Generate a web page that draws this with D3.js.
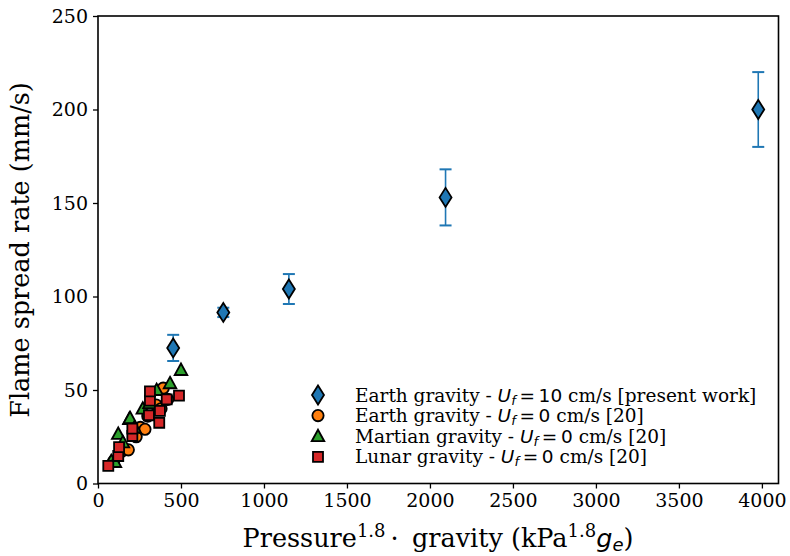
<!doctype html>
<html lang="en">
<head>
<meta charset="utf-8" />
<title>Flame spread rate</title>
<script src="https://cdn.jsdelivr.net/npm/d3@7"></script>
<style>
  body { margin: 0; background: #fff; }
  svg { display: block; }
  .tick text { font-family: "DejaVu Serif", serif; font-size: 19px; fill: #000; }
  .lbl { font-family: "DejaVu Serif", serif; font-size: 25.5px; fill: #000; }
  .leg { font-family: "DejaVu Serif", serif; font-size: 18.5px; fill: #000; }
  .math { font-family: "DejaVu Sans", sans-serif; }
</style>
</head>
<body>
<svg id="chart" width="790" height="556"></svg>
<script>
// present work, earth gravity, Uf = 10 cm/s
var earthX = [453, 755, 1150, 2094, 3978];
var earthY = [72.5, 91.5, 104, 153, 200];
var earthErr = [7, 2.5, 8, 15, 20];

// reference [20], Uf = 0
var orangeX = [95, 140, 183, 230, 255, 283, 300, 350, 380, 393, 420];
var orangeY = [12, 17, 18, 25, 30, 29, 36, 42, 40, 51, 45];

var greenX = [80, 102, 122, 150, 189, 193, 220, 270, 310, 353, 434, 500];
var greenY = [12, 11.5, 26.5, 22, 34.5, 35, 30, 40, 43, 50, 53.6, 60.7];

var redX = [62, 122, 127, 207, 207, 307, 369, 373, 313, 313, 414, 488];
var redY = [9.4, 14.7, 19.4, 25.4, 29.3, 36.5, 32.5, 38.8, 44.3, 49.3, 45, 47];

var xTicks = [0, 500, 1000, 1500, 2000, 2500, 3000, 3500, 4000];
var yTicks = [0, 50, 100, 150, 200, 250];

var legendRows = [
  { pre: "Earth gravity - ", val: "10", post: " cm/s [present work]", shape: "diamond", color: "#1f77b4" },
  { pre: "Earth gravity - ", val: "0", post: " cm/s [20]", shape: "circle", color: "#ff7f0e" },
  { pre: "Martian gravity - ", val: "0", post: " cm/s [20]", shape: "triangle", color: "#2ca02c" },
  { pre: "Lunar gravity - ", val: "0", post: " cm/s [20]", shape: "square", color: "#d62728" }
];

var svg = d3.select("#chart");
var mLeft = 98, mRight = 778.5, mTop = 16, mBottom = 483.5;

var x = d3.scaleLinear().domain([0, 4100]).range([mLeft, mRight]);
var y = d3.scaleLinear().domain([0, 250]).range([mBottom, mTop]);

// marker shapes
var shapes = {
  diamond: "M0,-9.5L6,0L0,9.5L-6,0Z",
  circle: d3.symbol().type(d3.symbolCircle).size(100)(),
  triangle: "M0,-6.5L6.3,5L-6.3,5Z",
  square: "M-5,-5H5V5H-5Z"
};

// axes
var xAxis = svg.append("g").attr("transform", "translate(0," + mBottom + ")")
  .call(d3.axisBottom(x).tickValues(xTicks).tickSize(5).tickPadding(5).tickFormat(d3.format("d")));
var yAxis = svg.append("g").attr("transform", "translate(" + mLeft + ",0)")
  .call(d3.axisLeft(y).tickValues(yTicks).tickSize(5).tickPadding(5));
[xAxis, yAxis].forEach(function (a) {
  a.select(".domain").remove();
  a.selectAll(".tick line").attr("stroke", "#000").attr("stroke-width", 1.3);
});

// error bars
var eb = svg.append("g").attr("stroke", "#1f77b4").attr("stroke-width", 1.6);
earthX.forEach(function (v, i) {
  var cx = x(v), y1 = y(earthY[i] + earthErr[i]), y0 = y(earthY[i] - earthErr[i]);
  eb.append("line").attr("x1", cx).attr("x2", cx).attr("y1", y1).attr("y2", y0);
  eb.append("line").attr("x1", cx - 6).attr("x2", cx + 6).attr("y1", y1).attr("y2", y1).attr("stroke-width", 2);
  eb.append("line").attr("x1", cx - 6).attr("x2", cx + 6).attr("y1", y0).attr("y2", y0).attr("stroke-width", 2);
});

function drawSeries(xs, ys, shape, color) {
  svg.append("g").selectAll("path").data(xs).join("path")
    .attr("d", shapes[shape])
    .attr("transform", function (d, i) { return "translate(" + x(d) + "," + y(ys[i]) + ")"; })
    .attr("fill", color).attr("stroke", "#000").attr("stroke-width", 1.8);
}
drawSeries(earthX, earthY, "diamond", "#1f77b4");
drawSeries(orangeX, orangeY, "circle", "#ff7f0e");
drawSeries(greenX, greenY, "triangle", "#2ca02c");
drawSeries(redX, redY, "square", "#d62728");

// frame
svg.append("rect").attr("x", mLeft).attr("y", mTop).attr("width", mRight - mLeft).attr("height", mBottom - mTop)
  .attr("fill", "none").attr("stroke", "#000").attr("stroke-width", 1.6);

// legend
var leg = svg.append("g");
legendRows.forEach(function (r, i) {
  var cy = 395 + i * 20.6;
  leg.append("path").attr("d", shapes[r.shape]).attr("transform", "translate(318," + cy + ")")
    .attr("fill", r.color).attr("stroke", "#000").attr("stroke-width", 1.8);
  var t = leg.append("text").attr("class", "leg").attr("x", 355).attr("y", cy + 6.5);
  t.append("tspan").text(r.pre);
  t.append("tspan").attr("class", "math").attr("font-style", "italic").text("U");
  t.append("tspan").attr("class", "math").attr("font-style", "italic").attr("font-size", "13px").attr("dy", 3).text("f");
  t.append("tspan").attr("class", "math").attr("dy", -3).text("\u2009=\u2009" + r.val);
  t.append("tspan").text(r.post);
});

// axis labels
var xl = svg.append("text").attr("class", "lbl").attr("x", 438).attr("y", 547).attr("text-anchor", "middle");
xl.append("tspan").text("Pressure");
xl.append("tspan").attr("font-size", "18px").attr("dy", -10).text("1.8");
xl.append("tspan").attr("dy", 10).text("\u2009\u00b7\u2009 gravity (kPa");
xl.append("tspan").attr("font-size", "18px").attr("dy", -10).text("1.8");
xl.append("tspan").attr("class", "math").attr("font-style", "italic").attr("dy", 10).text("g");
xl.append("tspan").attr("class", "math").attr("font-style", "italic").attr("font-size", "18px").attr("dy", 4).text("e");
xl.append("tspan").attr("dy", -4).text(")");

svg.append("text").attr("class", "lbl")
  .attr("transform", "translate(29,250) rotate(-90)")
  .attr("text-anchor", "middle").text("Flame spread rate (mm/s)");
</script>
</body>
</html>
